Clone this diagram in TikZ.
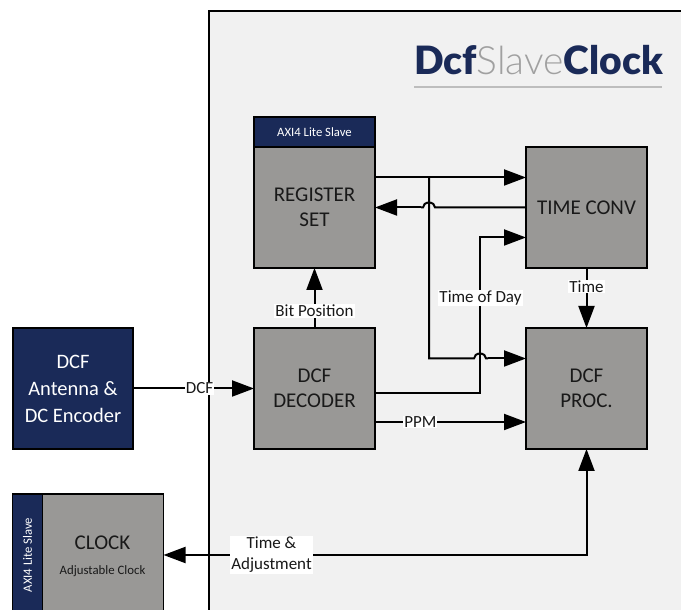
\documentclass[tikz,border=0pt]{standalone}
\usepackage{fontspec}
\setmainfont{Carlito}
\newfontfamily\logobold{Lato Black}
\newfontfamily\logolight{Lato Light}
\usetikzlibrary{arrows.meta}
\definecolor{navy}{HTML}{1A2A58}
\definecolor{blockgray}{HTML}{999896}
\definecolor{panelgray}{HTML}{F1F1F1}
\definecolor{logogray}{HTML}{A0A0A0}
\definecolor{rulegray}{HTML}{BDBDBD}
\tikzset{
    block/.style={draw=black,line width=2pt,fill=blockgray,minimum width=121pt,minimum height=121pt,inner sep=0pt,outer sep=0pt,align=center,text=black!90,font=\fontsize{21}{25}\selectfont},
    navyblock/.style={block,fill=navy,text=white,font=\fontsize{20.5}{27}\selectfont},
    header/.style={draw=black,line width=1.5pt,fill=navy,text=white,inner sep=0pt,outer sep=0pt,font=\fontsize{12.7}{14}\selectfont},
    link/.style={line width=2pt,-{Triangle[length=22pt,width=16pt]}},
    twolink/.style={line width=2pt,{Triangle[length=22pt,width=16pt]}-{Triangle[length=22pt,width=16pt]}},
    wire/.style={line width=2pt},
    tag/.style={fill=white,inner sep=1pt,align=center,text=black!90,font=\fontsize{17}{21}\selectfont},
}
\begin{document}
\begin{tikzpicture}[x=1pt,y=1pt]
    \useasboundingbox (0,0) rectangle (681,610);
    \clip (0,0) rectangle (681,610);
    %% panel
    \fill[panelgray] (209,0) rectangle (681,599);
    \draw[wire] (209,0) -- (209,599) -- (681,599);
    %% logo
    \node[anchor=base west,inner sep=0pt,text=navy,font=\fontsize{39}{39}\selectfont] (logo) at (414,535) {\logobold Dcf\textcolor{logogray}{\logolight Slave}Clock};
    \draw[rulegray,line width=1.5pt] (414,523) -- (662,523);
    %% blocks
    \node[block] (regset) at (314.5,402.5) {REGISTER\\SET};
    \node[header,line width=2pt,minimum width=121pt,minimum height=30pt,anchor=south] (reghdr) at (regset.north) {AXI4 Lite Slave};
    \node[block] (timeconv) at (586.5,402.5) {TIME CONV};
    \node[block] (decoder) at (314.5,221.5) {DCF\\DECODER};
    \node[block] (proc) at (586.5,221.5) {DCF\\PROC.};
    \node[navyblock,minimum width=120pt] (antenna) at (73,221.5) {DCF\\Antenna \&\\DC Encoder};
    \node[block,line width=1.5pt,minimum height=122pt,anchor=north west] (clock) at (42.5,116) {};
    \node[header,minimum width=30pt,minimum height=122pt,anchor=north east] (clockhdr) at (clock.north west) {\rotatebox{90}{AXI4 Lite Slave}};
    \node[inner sep=0pt,text=black!90,font=\fontsize{21}{22}\selectfont] (clockname) at (102.5,67) {CLOCK};
    \node[inner sep=0pt,text=black!90,font=\fontsize{12.8}{14}\selectfont] (clocksub) at (102.5,39) {Adjustable Clock};
    %% wire corners and line jumps
    \coordinate (branch) at ([xshift=54pt,yshift=30pt]regset.east);
    \coordinate (jumpa) at (branch |- regset.east);
    \coordinate (toprocin) at ([yshift=30pt]proc.west);
    \coordinate (downcorner) at (branch |- toprocin);
    \coordinate (decout) at ([yshift=-5pt]decoder.east);
    \coordinate (decturn) at ([xshift=105pt]decout);
    \coordinate (timein) at ([yshift=-30pt]timeconv.west);
    \coordinate (upcorner) at (decturn |- timein);
    \coordinate (jumpb) at (decturn |- toprocin);
    \coordinate (clockturn) at (proc.south |- clock.east);
    %% connectors
    \draw[link] (antenna.east) -- (decoder.west) node[tag,pos=.55] (dcflabel) {DCF};
    \draw[link] (decoder.north) -- (regset.south);
    \node[tag] (bitlabel) at (314.5,299) {Bit Position};
    \draw[link] ([yshift=30pt]regset.east) -- ([yshift=30pt]timeconv.west);
    \draw[wire] (branch) -- (downcorner) -- ([xshift=-6pt]jumpb) arc[start angle=180,end angle=0,x radius=6pt,y radius=5pt] -- ++(2pt,0);
    \draw[link] ([xshift=8pt]jumpb) -- (toprocin);
    \draw[wire] (timeconv.west) -- ([xshift=6pt]jumpa) arc[start angle=0,end angle=180,x radius=6pt,y radius=5pt] -- ++(-2pt,0);
    \draw[link] ([xshift=-8pt]jumpa) -- (regset.east);
    \draw[link] (decout) -- (decturn) -- (upcorner) -- (timein);
    \node[tag] (todlabel) at (480.5,312) {Time of Day};
    \draw[link] (timeconv.south) -- (proc.north);
    \node[tag] (timelabel) at (586.5,323.5) {Time};
    \draw[link] ([yshift=-33.5pt]decoder.east) -- ([yshift=-33.5pt]proc.west) node[tag,pos=.30] (ppmlabel) {PPM};
    \draw[twolink] (proc.south) -- (clockturn) -- (clock.east);
    \node[tag] (adjlabel) at (271.5,55) {Time \&\\Adjustment};
\end{tikzpicture}
\end{document}
